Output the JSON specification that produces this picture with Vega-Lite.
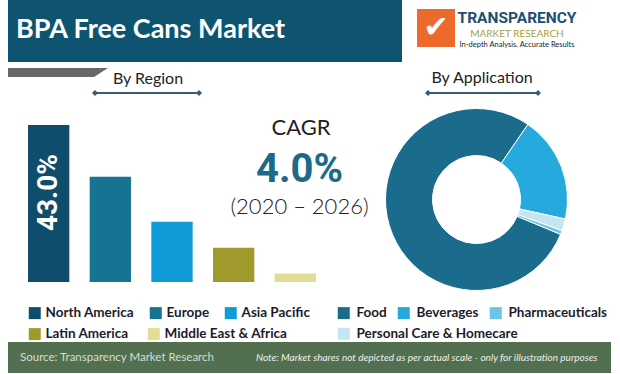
{
  "$schema": "https://vega.github.io/schema/vega-lite/v6.json",
  "padding": 0,
  "background": "white",
  "spacing": 0,
  "config": {"view": {"stroke": null}, "font": "Lato", "concat": {"spacing": 0},
    "legend": {"title": null, "orient": "none", "direction": "horizontal", "symbolType": "square", "symbolSize": 144, "symbolStrokeWidth": 0, "symbolOpacity": 1, "labelFont": "Lato", "labelFontWeight": "bold", "labelFontSize": 13.5, "labelColor": "#1c1c2c", "labelLimit": 300}},
  "resolve": {"scale": {"color": "independent", "fill": "independent"}, "legend": {"color": "independent", "fill": "independent"}},
  "vconcat": [
    {"hconcat": [
      {"width": 8, "height": 56, "data": {"values": []}, "mark": "point"},
      {"width": 394, "height": 56, "view": {"fill": "#0e5470"},
       "data": {"values": [{"t": "BPA Free Cans Market"}]},
       "mark": {"type": "text", "align": "left", "baseline": "middle", "dx": -189, "dy": 1.5, "font": "Lato", "fontWeight": "bold", "fontSize": 27, "color": "white"},
       "encoding": {"text": {"field": "t"}}},
      {"width": 15, "height": 56, "data": {"values": []}, "mark": "point"},
      {"width": 38, "height": 56,
       "data": {"values": [{"t": "✔"}]},
       "layer": [
         {"mark": {"type": "point", "shape": "square", "size": 1444, "filled": true, "color": "#ec6a2c", "opacity": 1}, "encoding": {}},
         {"mark": {"type": "text", "align": "center", "baseline": "middle", "font": "DejaVu Sans", "fontSize": 30, "color": "white"}, "encoding": {"text": {"field": "t"}}}
       ]},
      {"width": 4, "height": 56, "data": {"values": []}, "mark": "point"},
      {"width": 116, "height": 56,
       "layer": [
         {"data": {"values": [{"t": "TRANSPARENCY"}]},
          "mark": {"type": "text", "align": "center", "baseline": "middle", "dy": -10.5, "font": "Roboto", "fontWeight": "bold", "fontSize": 15.5, "color": "#1d4f70"},
          "encoding": {"text": {"field": "t"}}},
         {"data": {"values": [{"t": "MARKET  RESEARCH"}]},
          "mark": {"type": "text", "align": "center", "baseline": "middle", "dy": 6, "font": "Lato", "fontSize": 10, "color": "#a3a340"},
          "encoding": {"text": {"field": "t"}}},
         {"data": {"values": [{"t": "In-depth Analysis. Accurate Results"}]},
          "mark": {"type": "text", "align": "center", "baseline": "middle", "dy": 16.5, "font": "Lato", "fontSize": 7.5, "color": "#222222"},
          "encoding": {"text": {"field": "t"}}}
       ]}
    ], "bounds": "flush", "spacing": 0},

    {"hconcat": [
      {"width": 8, "height": 6, "data": {"values": []}, "mark": "point"},
      {"width": 394, "height": 6, "view": {"fill": "#0e5470"}, "data": {"values": []}, "mark": "point"}
    ], "bounds": "flush", "spacing": 0},

    {"hconcat": [
      {"width": 8, "height": 25, "data": {"values": []}, "mark": "point"},
      {"width": 100, "height": 21,
       "data": {"values": [{"t": "bar"}]},
       "mark": {"type": "point", "shape": "M-1,-0.09L1,-0.09L0.72,0.09L-1,0.09Z", "size": 10000, "filled": true, "color": "#686868", "opacity": 1},
       "encoding": {}},
      {"width": 80, "height": 25,
       "data": {"values": [{"t": "By Region"}]},
       "mark": {"type": "text", "align": "center", "baseline": "middle", "dy": 4, "font": "Lato", "fontSize": 16, "color": "#222222"},
       "encoding": {"text": {"field": "t"}}},
      {"width": 244, "height": 25, "data": {"values": []}, "mark": "point"},
      {"width": 100, "height": 25,
       "data": {"values": [{"t": "By Application"}]},
       "mark": {"type": "text", "align": "center", "baseline": "middle", "dy": 3.5, "font": "Lato", "fontSize": 16, "color": "#222222"},
       "encoding": {"text": {"field": "t"}}}
    ], "bounds": "flush", "spacing": 0},

    {"hconcat": [
      {"width": 95, "height": 12, "data": {"values": []}, "mark": "point"},
      {"width": 104, "height": 12,
       "data": {"values": [{"end": "a"}, {"end": "b"}]},
       "encoding": {"x": {"field": "end", "type": "nominal", "axis": null, "scale": {"padding": 0}}},
       "layer": [
         {"mark": {"type": "line", "color": "#3b5a78", "strokeWidth": 2}},
         {"mark": {"type": "point", "shape": "diamond", "size": 36, "filled": true, "color": "#3b5a78", "opacity": 1}}
       ]},
      {"width": 229, "height": 12, "data": {"values": []}, "mark": "point"},
      {"width": 110, "height": 12,
       "data": {"values": [{"end": "a"}, {"end": "b"}]},
       "encoding": {"x": {"field": "end", "type": "nominal", "axis": null, "scale": {"padding": 0}}},
       "layer": [
         {"mark": {"type": "line", "color": "#3b5a78", "strokeWidth": 2}},
         {"mark": {"type": "point", "shape": "diamond", "size": 36, "filled": true, "color": "#3b5a78", "opacity": 1}}
       ]}
    ], "bounds": "flush", "spacing": 0},

    {"hconcat": [
      {"width": 1, "height": 7, "data": {"values": []}, "mark": "point"}
    ], "bounds": "flush", "spacing": 0},

    {"hconcat": [
      {"width": 28, "height": 234, "data": {"values": []}, "mark": "point"},
      {"width": 288, "height": 174,
       "data": {"values": [
         {"region": "North America", "share": 0.430},
         {"region": "Europe", "share": 0.288},
         {"region": "Asia Pacific", "share": 0.165},
         {"region": "Latin America", "share": 0.094},
         {"region": "Middle East & Africa", "share": 0.023}
       ]},
       "encoding": {
         "x": {"field": "region", "type": "nominal", "sort": null, "axis": null, "scale": {"paddingInner": 0.33, "paddingOuter": 0}},
         "y": {"field": "share", "type": "quantitative", "axis": null, "scale": {"domain": [0, 0.4766], "nice": false}}
       },
       "layer": [
         {"mark": {"type": "bar", "opacity": 0},
          "encoding": {
            "fill": {"field": "region", "type": "nominal",
              "scale": {"domain": ["Latin America", "Middle East & Africa"], "range": ["#9f9a2b", "#e2dd94"]},
              "legend": {"legendX": 0, "legendY": 219, "labelOffset": 4, "columnPadding": 18}}
          }},
         {"mark": {"type": "bar"},
          "encoding": {
            "color": {"field": "region", "type": "nominal",
              "scale": {"domain": ["North America", "Europe", "Asia Pacific", "Latin America", "Middle East & Africa"], "range": ["#0e4d6b", "#167392", "#0e9bd8", "#9f9a2b", "#e2dd94"]},
              "legend": {"values": ["North America", "Europe", "Asia Pacific"], "legendX": 0, "legendY": 198, "labelOffset": 4, "columnPadding": 14}}
          }},
         {"transform": [{"filter": "datum.region === 'North America'"}],
          "mark": {"type": "text", "angle": 270, "align": "right", "baseline": "middle", "dx": -29, "font": "Roboto", "fontWeight": "bold", "fontSize": 28, "color": "white"},
          "encoding": {"text": {"field": "share", "type": "quantitative", "format": ".1%"}}}
       ]},
      {"width": 69, "height": 183,
       "layer": [
         {"data": {"values": [{"t": "CAGR"}]},
          "mark": {"type": "text", "align": "center", "baseline": "middle", "dx": -49.5, "dy": -72, "font": "Lato", "fontSize": 22, "color": "#222222"},
          "encoding": {"text": {"field": "t"}}},
         {"data": {"values": [{"t": "4.0%"}]},
          "mark": {"type": "text", "align": "center", "baseline": "middle", "dx": -51, "dy": -29.5, "font": "Roboto", "fontWeight": "bold", "fontSize": 40, "color": "#1b6a8a"},
          "encoding": {"text": {"field": "t"}}},
         {"data": {"values": [{"t": "(2020 – 2026)"}]},
          "mark": {"type": "text", "align": "center", "baseline": "middle", "dx": -51, "dy": 7.5, "font": "Lato", "fontWeight": 300, "fontSize": 22, "color": "#222222"},
          "encoding": {"text": {"field": "t"}}}
       ]},
      {"width": 183, "height": 183,
       "data": {"values": [
         {"application": "Food", "share": 0.783},
         {"application": "Beverages", "share": 0.189},
         {"application": "Pharmaceuticals", "share": 0.007},
         {"application": "Personal Care & Homecare", "share": 0.021}
       ]},
       "encoding": {
         "theta": {"field": "share", "type": "quantitative", "stack": true, "scale": {"range": [1.9635, 8.2467]}},
         "order": {"field": "share", "sort": "descending"}
       },
       "layer": [
         {"mark": {"type": "arc", "innerRadius": 44, "outerRadius": 91, "opacity": 0},
          "encoding": {
            "fill": {"field": "application", "type": "nominal",
              "scale": {"domain": ["Personal Care & Homecare"], "range": ["#c2e6f4"]},
              "legend": {"legendX": -48, "legendY": 219, "labelOffset": 6}}
          }},
         {"mark": {"type": "arc", "innerRadius": 44, "outerRadius": 91, "stroke": "white", "strokeWidth": 1},
          "encoding": {
            "color": {"field": "application", "type": "nominal",
              "scale": {"domain": ["Food", "Beverages", "Pharmaceuticals", "Personal Care & Homecare"], "range": ["#1a6b8c", "#26aadd", "#6cc4e6", "#c2e6f4"]},
              "legend": {"values": ["Food", "Beverages", "Pharmaceuticals"], "legendX": -48, "legendY": 198, "labelOffset": 6, "columnPadding": 10}}
          }}
       ]}
    ], "bounds": "flush", "spacing": 0, "resolve": {"scale": {"color": "independent", "fill": "independent"}, "legend": {"color": "independent", "fill": "independent"}}},

    {"hconcat": [
      {"width": 8, "height": 31, "data": {"values": []}, "mark": "point"},
      {"width": 603, "height": 31, "view": {"fill": "#52704f"},
       "layer": [
         {"data": {"values": [{"t": "Source: Transparency Market Research"}]},
          "mark": {"type": "text", "align": "left", "baseline": "middle", "dx": -289.5, "font": "Lato", "fontSize": 11.5, "color": "#d5dcd3"},
          "encoding": {"text": {"field": "t"}}},
         {"data": {"values": [{"t": "Note: Market shares not depicted as per actual scale - only for illustration purposes"}]},
          "mark": {"type": "text", "align": "left", "baseline": "middle", "dx": -53.5, "font": "Lato", "fontStyle": "italic", "fontSize": 10, "color": "#eeeeee"},
          "encoding": {"text": {"field": "t"}}}
       ]}
    ], "bounds": "flush", "spacing": 0}
  ]
}
